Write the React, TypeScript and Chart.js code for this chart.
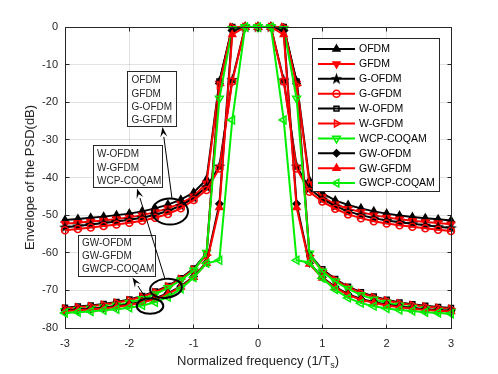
import React, { useEffect, useRef } from 'react';
import { Chart, registerables } from 'chart.js';
import { drawPoint } from 'chart.js/helpers';

Chart.register(...registerables);

const FONT = '"Liberation Sans", Arial, Helvetica, sans-serif';

// Normalized frequency samples (1/Ts)
const freq = [-3.0, -2.8, -2.6, -2.4, -2.2, -2.0, -1.8, -1.6, -1.4, -1.2, -1.0, -0.8, -0.6, -0.4, -0.2, 0, 0.2, 0.4, 0.6, 0.8, 1.0, 1.2, 1.4, 1.6, 1.8, 2.0, 2.2, 2.4, 2.6, 2.8, 3.0];
const xTickValues = [-3, -2, -1, 0, 1, 2, 3];
const yTickValues = [0, -10, -20, -30, -40, -50, -60, -70, -80];

// PSD envelopes (dB)
const ofdm = [-51.3, -51.0, -50.7, -50.4, -50.0, -49.6, -49.0, -48.2, -47.2, -45.9, -44.0, -40.5, -14.5, -0.3, 0, 0, 0, -0.3, -14.5, -40.8, -44.2, -46.1, -47.3, -48.2, -49.0, -49.6, -50.1, -50.5, -50.8, -51.1, -51.4];
const gfdm = [-52.3, -52.0, -51.7, -51.4, -51.0, -50.6, -50.0, -49.2, -48.2, -46.9, -45.0, -41.5, -15.0, -0.4, 0, 0, 0, -0.4, -15.0, -41.7, -45.2, -47.1, -48.3, -49.2, -50.0, -50.6, -51.1, -51.5, -51.8, -52.1, -52.4];
const gOfdm = [-53.2, -52.9, -52.5, -52.1, -51.7, -51.2, -50.7, -49.9, -48.9, -47.5, -45.4, -42.5, -37.0, -14.0, 0, 0, 0, -14.1, -37.0, -42.9, -45.7, -47.6, -49.0, -50.0, -50.8, -51.4, -51.9, -52.3, -52.7, -53.1, -53.4];
const gGfdm = [-54.0, -53.7, -53.3, -52.9, -52.5, -52.0, -51.5, -50.7, -49.7, -48.2, -46.0, -43.3, -37.6, -14.5, 0, 0, 0, -14.5, -37.6, -43.8, -46.4, -48.3, -49.8, -50.8, -51.6, -52.2, -52.7, -53.1, -53.5, -53.9, -54.2];
const wOfdm = [-74.6, -74.3, -74.0, -73.6, -73.1, -72.4, -71.5, -70.3, -68.8, -66.8, -64.2, -60.2, -14.5, 0, 0, 0, 0, 0, -14.5, -60.4, -64.4, -67.0, -69.0, -70.5, -71.6, -72.5, -73.2, -73.7, -74.1, -74.4, -74.7];
const wGfdm = [-74.8, -74.5, -74.2, -73.8, -73.3, -72.6, -71.7, -70.5, -69.0, -67.0, -64.5, -60.6, -15.5, 0, 0, 0, 0, 0, -15.5, -60.8, -64.7, -67.2, -69.2, -70.7, -71.8, -72.7, -73.4, -73.9, -74.3, -74.6, -74.9];
const wcpCoqam = [-75.5, -75.2, -74.9, -74.5, -74.0, -73.3, -72.3, -71.0, -69.4, -67.3, -64.7, -60.0, -19.0, -0.5, 0, 0, 0, -0.5, -19.0, -60.2, -65.0, -67.6, -69.6, -71.2, -72.4, -73.3, -74.0, -74.6, -75.0, -75.4, -75.7];
const gwOfdm = [-75.3, -75.1, -74.9, -74.6, -74.2, -73.7, -73.0, -72.1, -70.8, -68.9, -66.3, -62.6, -47.0, -1.0, 0, 0, 0, -1.0, -47.0, -62.8, -66.5, -69.1, -71.0, -72.3, -73.1, -73.8, -74.3, -74.7, -75.0, -75.2, -75.4];
const gwGfdm = [-75.5, -75.3, -75.1, -74.8, -74.4, -73.9, -73.2, -72.3, -71.0, -69.1, -66.5, -62.8, -48.0, -2.0, 0, 0, 0, -2.0, -48.0, -63.0, -66.7, -69.3, -71.2, -72.5, -73.3, -74.0, -74.5, -74.9, -75.2, -75.4, -75.6];
const gwcpCoqam = [-76.0, -75.8, -75.6, -75.3, -75.0, -74.6, -74.0, -73.2, -71.8, -69.6, -66.6, -62.8, -62.0, -24.7, 0, 0, 0, -24.7, -62.0, -62.6, -66.8, -69.8, -72.0, -73.4, -74.2, -74.8, -75.2, -75.5, -75.8, -76.0, -76.2];

const seriesNames = ['OFDM', 'GFDM', 'G-OFDM', 'G-GFDM', 'W-OFDM', 'W-GFDM', 'WCP-COQAM', 'GW-OFDM', 'GW-GFDM', 'GWCP-COQAM'];
const seriesValues = [ofdm, gfdm, gOfdm, gGfdm, wOfdm, wGfdm, wcpCoqam, gwOfdm, gwGfdm, gwcpCoqam];

const annotationGroups = [
  ['OFDM', 'GFDM', 'G-OFDM', 'G-GFDM'],
  ['W-OFDM', 'W-GFDM', 'WCP-COQAM'],
  ['GW-OFDM', 'GW-GFDM', 'GWCP-COQAM'],
];

function makeStar(): HTMLCanvasElement {
  const c = document.createElement('canvas');
  c.width = 13;
  c.height = 13;
  const g = c.getContext('2d')!;
  g.fillStyle = '#000';
  g.beginPath();
  for (let k = 0; k < 10; k++) {
    const r = k % 2 === 0 ? 6.2 : 2.5;
    const a = -Math.PI / 2 + (k * Math.PI) / 5;
    const px = 6.5 + r * Math.cos(a);
    const py = 6.8 + r * Math.sin(a);
    if (k === 0) g.moveTo(px, py);
    else g.lineTo(px, py);
  }
  g.closePath();
  g.fill();
  return c;
}

const BLACK = '#000000';
const RED = '#ff0000';
const GREEN = '#00ee00';
const NONE = 'rgba(255,255,255,0)';

function buildStyles() {
  const star = makeStar();
  return [
    { color: BLACK, style: 'triangle', rot: 0, r: 4, fill: BLACK },
    { color: RED, style: 'triangle', rot: 180, r: 4, fill: RED },
    { color: BLACK, style: star, rot: 0, r: 5, fill: BLACK },
    { color: RED, style: 'circle', rot: 0, r: 3.5, fill: NONE },
    { color: BLACK, style: 'rect', rot: 0, r: 3.5, fill: NONE },
    { color: RED, style: 'triangle', rot: 90, r: 4, fill: NONE },
    { color: GREEN, style: 'triangle', rot: 180, r: 4.5, fill: NONE },
    { color: BLACK, style: 'rectRot', rot: 0, r: 3.5, fill: BLACK },
    { color: RED, style: 'triangle', rot: 0, r: 4, fill: RED },
    { color: GREEN, style: 'triangle', rot: 270, r: 4.5, fill: NONE },
  ];
}

function align(p: number) {
  return Math.round(p - 0.5) + 0.5;
}

function arrow(ctx: CanvasRenderingContext2D, x0: number, y0: number, x1: number, y1: number) {
  const ang = Math.atan2(y1 - y0, x1 - x0);
  const len = 10;
  const w = 3.5;
  const bx = x1 - len * Math.cos(ang);
  const by = y1 - len * Math.sin(ang);
  ctx.strokeStyle = '#000';
  ctx.lineWidth = 1;
  ctx.beginPath();
  ctx.moveTo(x0, y0);
  ctx.lineTo(bx, by);
  ctx.stroke();
  ctx.fillStyle = '#000';
  ctx.beginPath();
  ctx.moveTo(x1, y1);
  ctx.lineTo(bx + w * Math.sin(ang), by - w * Math.cos(ang));
  ctx.lineTo(x1 - 0.6 * len * Math.cos(ang), y1 - 0.6 * len * Math.sin(ang));
  ctx.lineTo(bx - w * Math.sin(ang), by + w * Math.cos(ang));
  ctx.closePath();
  ctx.fill();
}

function textBox(ctx: CanvasRenderingContext2D, lines: string[], x: number, y: number, w: number, h: number, tx: number, ty0: number, dy: number) {
  ctx.fillStyle = '#fff';
  ctx.fillRect(x, y, w, h);
  ctx.strokeStyle = '#262626';
  ctx.lineWidth = 1;
  ctx.strokeRect(x + 0.5, y + 0.5, w, h);
  ctx.fillStyle = '#262626';
  ctx.font = `10px ${FONT}`;
  ctx.textAlign = 'left';
  ctx.textBaseline = 'middle';
  lines.forEach((t, i) => ctx.fillText(t, tx, ty0 + i * dy));
}

const decorPlugin = {
  id: 'decor',
  afterDraw(chart: any) {
    const { ctx, chartArea: ca, scales } = chart;
    ctx.save();
    const top = align(ca.top);
    const bottom = align(ca.bottom);
    const left = align(ca.left);
    const right = align(ca.right);
    ctx.strokeStyle = '#262626';
    ctx.lineWidth = 1;
    ctx.beginPath();
    ctx.moveTo(left, top);
    ctx.lineTo(right, top);
    ctx.lineTo(right, bottom);
    ctx.stroke();
    // inward ticks
    ctx.beginPath();
    xTickValues.forEach((v) => {
      const px = align(scales.x.getPixelForValue(v));
      ctx.moveTo(px, bottom);
      ctx.lineTo(px, bottom - 4);
      ctx.moveTo(px, top);
      ctx.lineTo(px, top + 4);
    });
    yTickValues.forEach((v) => {
      const py = align(scales.y.getPixelForValue(v));
      ctx.moveTo(left, py);
      ctx.lineTo(left + 4, py);
      ctx.moveTo(right, py);
      ctx.lineTo(right - 4, py);
    });
    ctx.stroke();

    // annotations
    textBox(ctx, annotationGroups[0], 127, 71, 49, 55, 131.5, 80.7, 13.3);
    textBox(ctx, annotationGroups[1], 93, 145, 69, 42, 97, 154.5, 13.3);
    textBox(ctx, annotationGroups[2], 78, 235, 77, 41, 82, 243.3, 13.1);

    ctx.strokeStyle = '#000';
    ctx.lineWidth = 2;
    ctx.beginPath();
    ctx.ellipse(170, 211.5, 18, 13, 0, 0, Math.PI * 2);
    ctx.stroke();
    ctx.beginPath();
    ctx.ellipse(166, 288.3, 16, 9.5, -0.12, 0, Math.PI * 2);
    ctx.stroke();
    ctx.beginPath();
    ctx.ellipse(150, 306, 13.3, 7.8, 0, 0, Math.PI * 2);
    ctx.stroke();

    arrow(ctx, 172, 198.5, 162.5, 127);
    arrow(ctx, 165, 279, 137, 188.5);
    arrow(ctx, 146, 298.5, 132.5, 277.5);

    // axis titles
    ctx.fillStyle = '#262626';
    ctx.font = `13px ${FONT}`;
    ctx.textBaseline = 'middle';
    ctx.textAlign = 'left';
    const main = 'Normalized frequency (1/T';
    const wMain = ctx.measureText(main).width;
    ctx.font = `9px ${FONT}`;
    const wSub = ctx.measureText('s').width;
    ctx.font = `13px ${FONT}`;
    const wClose = ctx.measureText(')').width;
    const total = wMain + wSub + wClose;
    let xs = (ca.left + ca.right) / 2 - total / 2;
    const yl = 361;
    ctx.fillText(main, xs, yl);
    xs += wMain;
    ctx.font = `9px ${FONT}`;
    ctx.fillText('s', xs, yl + 5);
    xs += wSub;
    ctx.font = `13px ${FONT}`;
    ctx.fillText(')', xs, yl);

    ctx.save();
    ctx.translate(30, (ca.top + ca.bottom) / 2);
    ctx.rotate(-Math.PI / 2);
    ctx.textAlign = 'center';
    ctx.fillText('Envelope of the PSD(dB)', 0, 0);
    ctx.restore();

    // legend
    const lx = 312, ly = 38, lw = 127, lh = 153;
    ctx.fillStyle = '#fff';
    ctx.fillRect(lx, ly, lw, lh);
    ctx.strokeStyle = '#262626';
    ctx.lineWidth = 1;
    ctx.strokeRect(lx + 0.5, ly + 0.5, lw, lh);
    chart.data.datasets.forEach((ds: any, i: number) => {
      const y = 49 + i * 14.9;
      ctx.strokeStyle = ds.borderColor;
      ctx.lineWidth = 2;
      ctx.beginPath();
      ctx.moveTo(318, y);
      ctx.lineTo(355, y);
      ctx.stroke();
      ctx.fillStyle = ds.pointBackgroundColor;
      ctx.strokeStyle = ds.pointBorderColor;
      ctx.lineWidth = ds.pointBorderWidth;
      drawPoint(ctx, {
        pointStyle: ds.pointStyle,
        rotation: ds.pointRotation || 0,
        radius: ds.pointRadius,
        borderWidth: ds.pointBorderWidth,
      } as any, 336.5, y);
      ctx.fillStyle = '#000';
      ctx.font = `10.5px ${FONT}`;
      ctx.textAlign = 'left';
      ctx.textBaseline = 'middle';
      ctx.fillText(ds.label, 359, y + 0.5);
    });
    ctx.restore();
  },
};

export default function App() {
  const ref = useRef<HTMLCanvasElement>(null);
  useEffect(() => {
    const styles = buildStyles();
    const datasets = seriesNames.map((name, i) => {
      const s = styles[i];
      return {
        label: name,
        data: freq.map((x, j) => ({ x, y: seriesValues[i][j] })),
        borderColor: s.color,
        backgroundColor: s.color,
        borderWidth: 2,
        pointStyle: s.style as any,
        pointRotation: s.rot,
        pointRadius: s.r,
        pointBackgroundColor: s.fill,
        pointBorderColor: s.color,
        pointBorderWidth: 1.5,
        tension: 0,
        clip: false as any,
        order: 9 - i,
      };
    });
    const chart = new Chart(ref.current!, {
      type: 'line',
      data: { datasets },
      options: {
        animation: false,
        responsive: false,
        devicePixelRatio: 1,
        layout: { padding: { left: 0, right: 47, top: 27, bottom: 0 } },
        plugins: { legend: { display: false }, tooltip: { enabled: false } },
        scales: {
          x: {
            type: 'linear',
            min: -3,
            max: 3,
            afterFit: (s: any) => { s.height = 46; },
            afterBuildTicks: (s: any) => { s.ticks = xTickValues.map((v) => ({ value: v })); },
            ticks: { color: '#262626', font: { family: FONT, size: 11 }, padding: 9, maxRotation: 0 },
            grid: { color: 'rgba(38,38,38,0.13)', drawTicks: false },
            border: { color: '#262626' },
          },
          y: {
            type: 'linear',
            min: -80,
            max: 0,
            afterFit: (s: any) => { s.width = 65; },
            afterBuildTicks: (s: any) => { s.ticks = yTickValues.map((v) => ({ value: v })); },
            ticks: { color: '#262626', font: { family: FONT, size: 11 }, padding: 7 },
            grid: { color: 'rgba(38,38,38,0.13)', drawTicks: false },
            border: { color: '#262626' },
          },
        },
      },
      plugins: [decorPlugin],
    });
    return () => chart.destroy();
  }, []);
  return (
    <div style={{ position: 'fixed', left: 0, top: 0, width: 498, height: 374, background: '#fff' }}>
      <canvas ref={ref} width={498} height={374} style={{ width: 498, height: 374, display: 'block' }} />
    </div>
  );
}
